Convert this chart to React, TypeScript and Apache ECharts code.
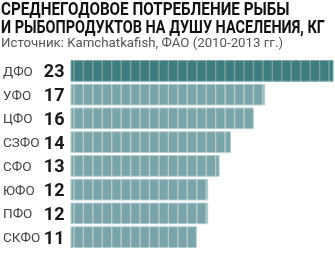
import React, { useEffect, useRef } from "react";
import * as echarts from "echarts";

const categories = ["ДФО", "УФО", "ЦФО", "СЗФО", "СФО", "ЮФО", "ПФО", "СКФО"];
const values = [23, 17, 16, 14, 13, 12, 12, 11];
const titleLines = ["СРЕДНЕГОДОВОЕ ПОТРЕБЛЕНИЕ РЫБЫ", "И РЫБОПРОДУКТОВ НА ДУШУ НАСЕЛЕНИЯ, КГ"];
const subtitle = "Источник: Kamchatkafish, ФАО (2010-2013 гг.)";

function fitScale(text: string, font: string, target: number): number {
  const c = document.createElement("canvas").getContext("2d");
  if (!c) return 1;
  c.font = font;
  const w = c.measureText(text).width;
  return w > 0 ? target / w : 1;
}

export default function App() {
  const ref = useRef<HTMLDivElement>(null);
  useEffect(() => {
    if (!ref.current) return;
    const chart = echarts.init(ref.current, undefined, { renderer: "svg" });
    const tFont = "bold 18px Roboto";
    const sFont = "13px Roboto";
    const s1 = fitScale(titleLines[0], tFont, 289);
    const s2 = fitScale(titleLines[1], tFont, 324);
    const s3 = fitScale(subtitle, sFont, 282);
    chart.setOption({
      animation: false,
      graphic: [
        { type: "text", x: 1, y: 9.5, scaleX: s1, style: { text: titleLines[0], font: tFont, lineHeight: 18, fill: "#111", verticalAlign: "middle" } },
        { type: "text", x: 1, y: 27, scaleX: s2, style: { text: titleLines[1], font: tFont, lineHeight: 18, fill: "#111", verticalAlign: "middle" } },
        { type: "text", x: 1, y: 43, scaleX: s3, style: { text: subtitle, font: sFont, fill: "#555", verticalAlign: "middle" } },
      ],
      grid: { left: 70, right: 2, top: 59, height: 190 },
      xAxis: { type: "value", min: 0, max: 23, show: false },
      yAxis: {
        type: "category",
        data: categories,
        inverse: true,
        axisLine: { show: false },
        axisTick: { show: false },
        splitLine: { show: false },
        axisLabel: {
          align: "left",
          margin: 68,
          formatter: (v: string, i: number) => `{n|${v}}{v|${values[i]}}`,
          rich: {
            n: { width: 38, align: "left", fontFamily: "Roboto", fontSize: 13.5, color: "#444" },
            v: { width: 23.5, align: "right", fontFamily: "Roboto", fontWeight: "bold", fontSize: 18, color: "#1a1a1a" },
          },
        },
      },
      series: [
        {
          type: "custom",
          data: values.map((v, i) => [v, i]),
          encode: { x: 0, y: 1 },
          renderItem: (params: any, api: any) => {
            const val = api.value(0);
            const idx = api.value(1);
            const start = api.coord([0, idx]);
            const end = api.coord([val, idx]);
            const h = api.size([0, 1])[1] * 0.87;
            const y = start[1] - h / 2;
            const w = end[0] - start[0];
            const dark = idx === 0;
            const children: any[] = [
              {
                type: "rect",
                shape: { x: start[0], y, width: w, height: h },
                style: { fill: dark ? "#3f7c80" : "#79a4a8", stroke: dark ? "#7aa6a9" : "#b3cdcf", lineWidth: 1 },
              },
            ];
            const period = 9.45;
            for (let x = start[0] + 2.2; x < end[0] - 1; x += period) {
              children.push({
                type: "rect",
                shape: { x, y, width: 1.4, height: h },
                style: { fill: dark ? "rgba(255,255,255,0.3)" : "rgba(255,255,255,0.45)" },
              });
            }
            return { type: "group", children };
          },
        },
      ],
    });
    return () => chart.dispose();
  }, []);
  return <div ref={ref} style={{ position: "fixed", left: 0, top: 0, width: 335, height: 255 }} />;
}
